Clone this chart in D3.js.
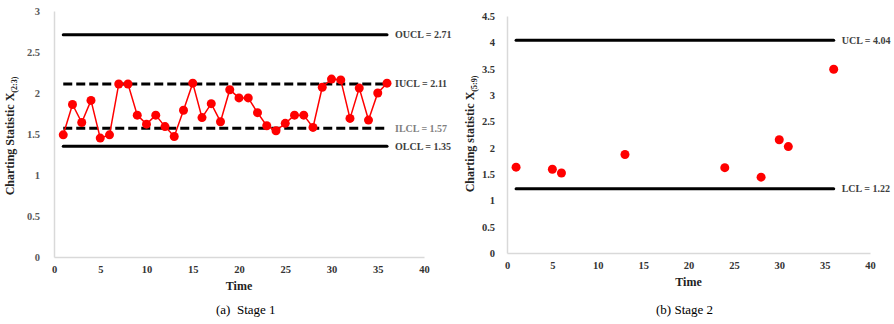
<!DOCTYPE html>
<html>
<head>
<meta charset="utf-8">
<script src="https://cdn.jsdelivr.net/npm/d3@7"></script>
<style>
  body { margin: 0; background: #fff; }
  text { font-family: "Liberation Serif", "Times New Roman", serif; }
</style>
</head>
<body>
<div id="chart"></div>
<script>
// Stage 1 charting statistic X(2:3)
const stage1Time = d3.range(1, 37);
const stage1Values = [1.49, 1.86, 1.64, 1.91, 1.45, 1.49, 2.11, 2.11, 1.73, 1.62,
                      1.73, 1.59, 1.47, 1.79, 2.12, 1.70, 1.87, 1.65, 2.04, 1.94,
                      1.94, 1.76, 1.60, 1.54, 1.63, 1.73, 1.73, 1.58, 2.07, 2.17,
                      2.16, 1.69, 2.06, 1.67, 2.00, 2.12];
const stage1Limits = [
  {name: "OUCL", value: 2.71, dashed: false},
  {name: "IUCL", value: 2.11, dashed: true},
  {name: "ILCL", value: 1.57, dashed: true},
  {name: "OLCL", value: 1.35, dashed: false}
];

// Stage 2 charting statistic X(5:9)
const stage2Time = [1, 5, 6, 13, 24, 28, 30, 31, 36];
const stage2Values = [1.63, 1.59, 1.52, 1.87, 1.62, 1.44, 2.15, 2.02, 3.49];
const stage2Limits = [
  {name: "UCL", value: 4.04, dashed: false},
  {name: "LCL", value: 1.22, dashed: false}
];

const xTicks = [0, 5, 10, 15, 20, 25, 30, 35, 40];
const yTicks1 = [0, 0.5, 1, 1.5, 2, 2.5, 3];
const yTicks2 = [0, 0.5, 1, 1.5, 2, 2.5, 3, 3.5, 4, 4.5];

const svg = d3.select("#chart")
  .append("svg")
  .attr("width", 894)
  .attr("height", 324);

function drawPanel(opt) {
  const g = svg.append("g")
    .attr("transform", `translate(${opt.left},${opt.top})`);

  const x = d3.scaleLinear().domain([0, 40]).range([0, opt.width]);
  const y = d3.scaleLinear().domain([0, opt.yMax]).range([opt.height, 0]);

  // axes (no tick marks, light grey lines)
  const xAxis = g.append("g")
    .attr("transform", `translate(0,${opt.height})`)
    .call(d3.axisBottom(x).tickValues(xTicks).tickSize(0).tickPadding(9));
  xAxis.select(".domain").attr("stroke", "#d9d9d9").attr("stroke-width", 1.5);
  xAxis.selectAll("text")
    .attr("font-family", "Liberation Serif")
    .attr("font-size", 10.5)
    .attr("font-weight", "bold")
    .attr("fill", "#333");

  const yAxis = g.append("g")
    .call(d3.axisLeft(y).tickValues(opt.yTicks).tickSize(0).tickPadding(opt.yPad)
      .tickFormat(d => String(d)));
  yAxis.select(".domain").attr("stroke", "#d9d9d9").attr("stroke-width", 1.5);
  yAxis.selectAll("text")
    .attr("font-family", "Liberation Serif")
    .attr("font-size", 10.5)
    .attr("font-weight", "bold")
    .attr("fill", opt.yTickColor);

  // control limits
  const t0 = opt.lineFrom, t1 = opt.lineTo;
  opt.limits.forEach(function(l) {
    g.append("line")
      .attr("x1", x(t0)).attr("x2", x(t1))
      .attr("y1", y(l.value)).attr("y2", y(l.value))
      .attr("stroke", "#000")
      .attr("stroke-width", 3)
      .attr("stroke-dasharray", l.dashed ? "9,4" : null)
      .attr("stroke-linecap", l.dashed ? "butt" : "round");
    g.append("text")
      .attr("x", x(t1) + 8)
      .attr("y", y(l.value))
      .attr("dy", "0.35em")
      .attr("font-size", 10)
      .attr("font-weight", "bold")
      .attr("fill", l.name === "ILCL" ? "#7f7f7f" : "#404040")
      .text(`${l.name} = ${l.value.toFixed(2)}`);
  });

  const pts = opt.time.map((t, i) => ({t: t, v: opt.values[i]}));

  if (opt.connect) {
    g.append("path")
      .datum(pts)
      .attr("fill", "none")
      .attr("stroke", "#ff0000")
      .attr("stroke-width", 1.5)
      .attr("d", d3.line().x(d => x(d.t)).y(d => y(d.v)));
  }

  g.selectAll("circle.pt")
    .data(pts)
    .join("circle")
    .attr("class", "pt")
    .attr("cx", d => x(d.t))
    .attr("cy", d => y(d.v))
    .attr("r", 4.5)
    .attr("fill", "#ff0000");

  // axis titles
  g.append("text")
    .attr("x", opt.width / 2 + opt.timeShift)
    .attr("y", opt.height + 33)
    .attr("text-anchor", "middle")
    .attr("font-size", 12)
    .attr("font-weight", "bold")
    .attr("fill", "#222")
    .text("Time");

  const yt = g.append("text")
    .attr("transform", `translate(${opt.yTitleX},${opt.yTitleY}) rotate(-90)`)
    .attr("text-anchor", "middle")
    .attr("font-size", 12)
    .attr("font-weight", "bold")
    .attr("fill", "#222");
  yt.append("tspan").text(opt.yTitle);
  yt.append("tspan").attr("font-size", 8).attr("dy", 3).text(opt.ySub);

  // caption
  svg.append("text")
    .attr("x", opt.captionX)
    .attr("y", 314)
    .attr("font-size", 13)
    .attr("fill", "#000")
    .attr("xml:space", "preserve")
    .text(opt.caption);
}

drawPanel({
  left: 54, top: 11, width: 370, height: 246, yMax: 3,
  yTicks: yTicks1, yPad: 14, yTickColor: "#595959",
  limits: stage1Limits, lineFrom: 1, lineTo: 36,
  time: stage1Time, values: stage1Values, connect: true,
  timeShift: 0, yTitleX: -40, yTitleY: 125,
  yTitle: "Charting Statistic X", ySub: "(2:3)",
  caption: "(a)  Stage 1", captionX: 216
});

drawPanel({
  left: 507, top: 16, width: 363, height: 237, yMax: 4.5,
  yTicks: yTicks2, yPad: 12, yTickColor: "#333",
  limits: stage2Limits, lineFrom: 1, lineTo: 36,
  time: stage2Time, values: stage2Values, connect: false,
  timeShift: 0, yTitleX: -33, yTitleY: 118,
  yTitle: "Charting statistic X", ySub: "(5:9)",
  caption: "(b) Stage 2", captionX: 656
});
</script>
</body>
</html>
